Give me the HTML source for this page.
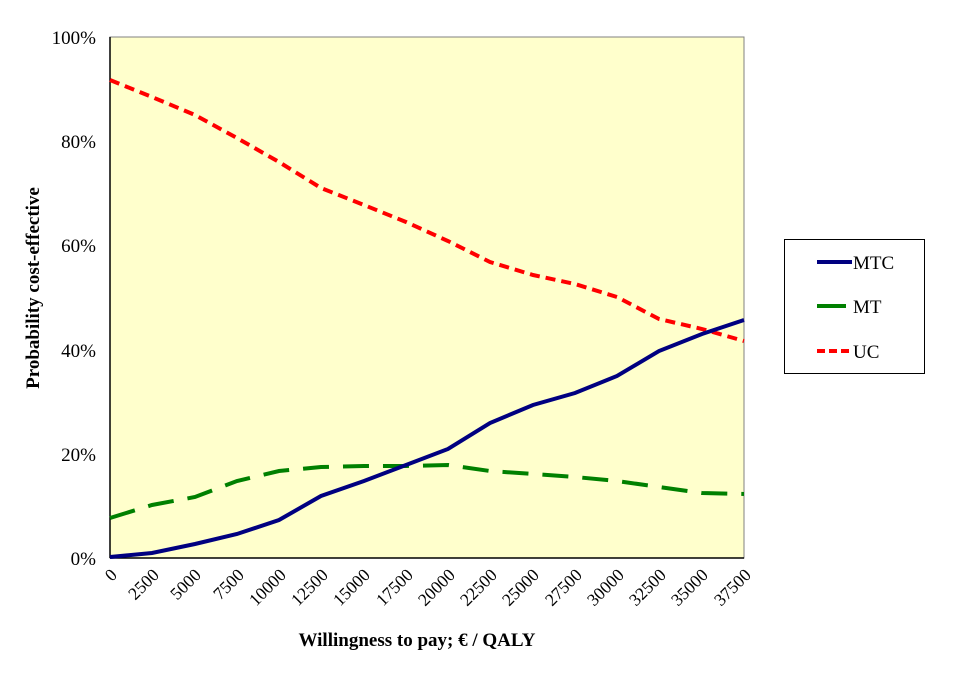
<!DOCTYPE html>
<html><head><style>body{margin:0;background:#fff}</style></head><body>
<svg width="963" height="673" xmlns="http://www.w3.org/2000/svg" font-family="Liberation Serif, serif">
<rect x="110" y="37" width="634" height="521" fill="#ffffcc" stroke="#808080" stroke-width="1"/>
<line x1="110" y1="37" x2="110" y2="558" stroke="#000" stroke-width="1.5"/>
<line x1="110" y1="558" x2="744" y2="558" stroke="#000" stroke-width="1.5"/>
<g font-size="19" text-anchor="end" fill="#000">
<text x="96" y="44">100%</text><text x="96" y="148">80%</text><text x="96" y="252">60%</text>
<text x="96" y="357">40%</text><text x="96" y="461">20%</text><text x="96" y="565">0%</text>
</g>
<g font-size="17.5" text-anchor="end" fill="#000">
<text transform="translate(118,576) rotate(-45)">0</text>
<text transform="translate(160,576) rotate(-45)">2500</text>
<text transform="translate(202,576) rotate(-45)">5000</text>
<text transform="translate(245,576) rotate(-45)">7500</text>
<text transform="translate(287,576) rotate(-45)">10000</text>
<text transform="translate(329,576) rotate(-45)">12500</text>
<text transform="translate(371,576) rotate(-45)">15000</text>
<text transform="translate(414,576) rotate(-45)">17500</text>
<text transform="translate(456,576) rotate(-45)">20000</text>
<text transform="translate(498,576) rotate(-45)">22500</text>
<text transform="translate(540,576) rotate(-45)">25000</text>
<text transform="translate(583,576) rotate(-45)">27500</text>
<text transform="translate(625,576) rotate(-45)">30000</text>
<text transform="translate(667,576) rotate(-45)">32500</text>
<text transform="translate(709,576) rotate(-45)">35000</text>
<text transform="translate(752,576) rotate(-45)">37500</text>
</g>
<text x="417" y="646" font-size="19" font-weight="bold" text-anchor="middle">Willingness to pay; € / QALY</text>
<text transform="translate(39,288) rotate(-90)" font-size="19" font-weight="bold" text-anchor="middle">Probability cost-effective</text>
<polyline fill="none" stroke="#ff0000" stroke-width="4" stroke-dasharray="10,6" points="110,80 152,97 195,115 237,138 279,162 321,188 364,205 406,222 448,241 490,262 533,275 575,284 617,297 659,319 702,329 744,341"/>
<polyline fill="none" stroke="#008000" stroke-width="4" stroke-dasharray="26,14" points="110,518 152,505 195,497 237,481 279,471 321,467 364,466 406,466 448,465 490,471 533,474 575,477 617,481 659,487 702,493 744,494"/>
<polyline fill="none" stroke="#000080" stroke-width="4" points="110,557 152,553 195,544 237,534 279,520 321,496 364,481 406,465 448,449 490,423 533,405 575,393 617,376 659,351 702,334 744,320"/>
<rect x="784.5" y="239.5" width="140" height="134" fill="#fff" stroke="#000" stroke-width="1"/>
<line x1="817" y1="262" x2="852" y2="262" stroke="#000080" stroke-width="4"/>
<line x1="817" y1="306" x2="846" y2="306" stroke="#008000" stroke-width="4"/>
<line x1="817" y1="351" x2="852" y2="351" stroke="#ff0000" stroke-width="4" stroke-dasharray="8,4"/>
<g font-size="19"><text x="853" y="269">MTC</text><text x="853" y="313">MT</text><text x="853" y="358">UC</text></g>
</svg>
</body></html>
